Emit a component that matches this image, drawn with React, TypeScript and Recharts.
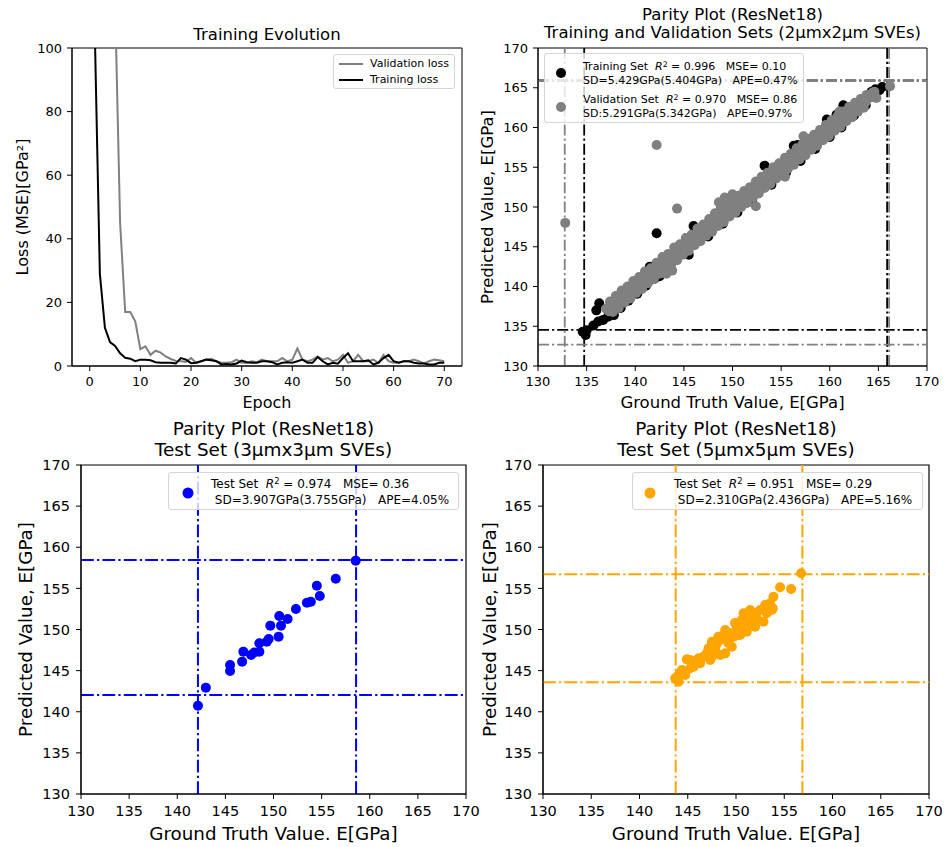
import React from 'react';
import {
  LineChart,
  Line,
  ScatterChart,
  Scatter,
  XAxis,
  YAxis,
  ReferenceLine,
  ReferenceArea,
  Legend,
  Label,
} from 'recharts';

const FONT = '"DejaVu Sans", "Noto Sans", sans-serif';

// ---------- Training evolution (epochs 0..70) ----------
const trainingLoss = [
  500, 105, 29, 12, 7.5, 6.3, 4.0, 2.6, 2.3, 1.5,
  2.0, 2.0, 1.8, 1.2, 1.0, 1.0, 1.0, 0.8, 2.5, 2.0,
  0.9, 1.0, 1.5, 2.0, 1.8, 1.5, 0.5, 0.6, 0.5, 0.8,
  1.7, 1.2, 1.0, 1.0, 1.5, 1.5, 1.2, 0.5, 1.0, 1.2,
  1.0, 1.5, 2.0, 1.0, 1.0, 2.8, 1.5, 0.5, 1.0, 0.7,
  2.5, 4.0, 1.5, 1.5, 1.5, 1.8, 0.5, 1.0, 2.5, 3.5,
  1.5, 1.0, 1.5, 1.5, 1.0, 0.8, 0.8, 0.5, 0.5, 1.0, 1.0,
];
const validationLoss = [
  900, 600, 400, 250, 170, 115, 45, 17, 17, 14,
  5.3, 6.2, 3.5, 4.8, 4.2, 3.0, 2.2, 1.6, 1.5, 1.3,
  2.5, 1.0, 1.5, 2.0, 2.3, 1.5, 1.0, 1.0, 1.2, 2.0,
  1.0, 1.0, 1.5, 1.2, 2.0, 1.5, 1.5, 1.5, 2.5, 1.5,
  2.0, 5.5, 2.0, 1.5, 2.0, 3.0, 2.0, 2.5, 1.5, 2.0,
  3.5, 1.0, 1.5, 3.5, 1.5, 1.5, 2.0, 1.0, 3.5, 1.5,
  1.0, 1.0, 1.5, 1.5, 2.0, 1.5, 0.8, 1.5, 2.0, 1.8, 1.5,
];
const epochTicks = [0, 10, 20, 30, 40, 50, 60, 70];
const lossTicks = [0, 20, 40, 60, 80, 100];

// ---------- Parity plot: training / validation (2um x 2um) ----------
const trainingSet: [number, number][] = [
  [134.6, 134.3], [134.9, 133.9], [135.0, 134.5], [135.7, 135.1], [136.0, 137.0],
  [136.3, 137.9], [136.2, 135.6], [136.7, 135.8], [137.2, 136.2], [137.8, 136.4],
  [138.5, 137.3], [139.3, 138.2], [140.2, 139.1], [141.1, 140.1], [141.5, 142.5],
  [142.0, 141.0], [142.5, 141.3], [142.2, 146.7], [143.5, 142.4], [145.5, 144.0],
  [146.0, 147.6], [147.5, 146.3], [149.0, 147.9], [150.5, 149.3], [152.0, 150.8],
  [153.3, 155.2], [154.0, 152.8], [155.5, 154.3], [156.3, 157.7], [156.7, 157.8],
  [157.0, 155.8], [158.5, 157.3], [159.7, 161.0], [160.0, 158.8], [160.7, 161.6],
  [161.4, 162.8], [161.2, 160.0], [162.5, 161.5], [163.3, 163.6], [163.7, 162.8],
  [164.3, 164.5], [164.7, 164.8], [165.1, 164.7], [165.4, 165.1],
];
const validationSet: [number, number][] = [
  // row A (upper edge)
  [137.4, 138.1], [138.0, 138.8], [138.6, 139.5], [139.2, 140.0], [139.8, 140.7],
  [140.4, 141.2], [141.0, 141.9], [141.6, 142.3], [142.2, 143.0], [142.8, 143.7],
  [143.4, 144.1], [144.0, 144.9], [144.6, 145.3], [145.2, 146.1], [145.8, 146.5],
  [146.4, 147.3], [147.0, 147.8], [147.6, 148.5], [148.2, 149.2], [148.8, 149.9],
  [149.4, 150.5], [150.0, 150.9], [150.6, 151.4], [151.2, 152.0], [151.8, 152.5],
  [152.4, 153.2], [153.0, 153.8], [153.6, 154.3], [154.2, 155.0], [154.8, 155.5],
  [155.4, 156.2], [156.0, 156.7], [156.6, 157.4], [157.2, 157.9], [157.8, 158.6],
  [158.4, 159.1], [159.0, 159.7], [159.6, 160.3], [160.2, 160.9], [160.8, 161.4],
  [161.4, 162.0], [162.0, 162.6], [162.6, 163.1], [163.2, 163.6], [163.8, 164.1],
  [164.4, 164.4],
  // row B
  [137.0, 137.2], [137.6, 137.9], [138.2, 138.4], [138.8, 139.1], [139.4, 139.6],
  [140.0, 140.3], [140.6, 140.8], [141.2, 141.5], [141.8, 142.0], [142.4, 142.7],
  [143.0, 143.2], [143.6, 143.9], [144.2, 144.4], [144.8, 145.1], [145.4, 145.6],
  [146.0, 146.3], [146.6, 146.9], [147.2, 147.5], [147.8, 148.1], [148.4, 148.7],
  [149.0, 149.3], [149.6, 149.9], [150.2, 150.4], [150.8, 151.1], [151.4, 151.6],
  [152.0, 152.3], [152.6, 152.8], [153.2, 153.5], [153.8, 154.0], [154.4, 154.7],
  [155.0, 155.2], [155.6, 155.9], [156.2, 156.4], [156.8, 157.0], [157.4, 157.6],
  [158.0, 158.2], [158.6, 158.8], [159.2, 159.4], [159.8, 159.9], [160.4, 160.6],
  [161.0, 161.1], [161.6, 161.7], [162.2, 162.3], [162.8, 162.8], [163.4, 163.4],
  [164.0, 163.9], [164.6, 164.5],
  // row C
  [137.3, 136.9], [137.9, 137.6], [138.5, 138.1], [139.1, 138.8], [139.7, 139.3],
  [140.3, 140.0], [140.9, 140.5], [141.5, 141.2], [142.1, 141.7], [142.7, 142.4],
  [143.3, 142.9], [143.9, 143.6], [144.5, 144.1], [145.1, 144.8], [145.7, 145.3],
  [146.3, 146.0], [146.9, 146.5], [147.5, 147.2], [148.1, 147.7], [148.7, 148.4],
  [149.3, 148.9], [149.9, 149.6], [150.5, 150.1], [151.1, 150.8], [151.7, 151.3],
  [152.3, 152.0], [152.9, 152.5], [153.5, 153.2], [154.1, 153.7], [154.7, 154.4],
  [155.3, 154.9], [155.9, 155.6], [156.5, 156.1], [157.1, 156.8], [157.7, 157.3],
  [158.3, 158.0], [158.9, 158.5], [159.5, 159.2], [160.1, 159.7], [160.7, 160.4],
  [161.3, 160.9], [161.9, 161.6], [162.5, 162.1], [163.1, 162.8], [163.7, 163.2],
  [164.3, 163.8],
  // row D (lower edge)
  [137.7, 136.8], [138.3, 137.3], [138.9, 138.0], [139.5, 138.5], [140.1, 139.2],
  [140.7, 139.7], [141.3, 140.4], [141.9, 140.9], [142.5, 141.6], [143.1, 142.1],
  [143.7, 142.8], [144.3, 143.3], [144.9, 144.0], [145.5, 144.5], [146.1, 145.2],
  [146.7, 145.7], [147.3, 146.4], [147.9, 146.9], [148.5, 147.6], [149.1, 148.1],
  [149.7, 148.8], [150.3, 149.3], [150.9, 150.0], [151.5, 150.5], [152.1, 151.2],
  [152.7, 151.7], [153.3, 152.4], [153.9, 152.9], [154.5, 153.6], [155.1, 154.1],
  [155.7, 154.8], [156.3, 155.3], [156.9, 156.0], [157.5, 156.5], [158.1, 157.2],
  [158.7, 157.7], [159.3, 158.4], [159.9, 158.9], [160.5, 159.6], [161.1, 160.1],
  [161.7, 160.8], [162.3, 161.3], [162.9, 162.0], [163.5, 162.5],
  // bumps, extremes and outliers
  [148.6, 150.6], [149.2, 151.2], [150.0, 151.6], [152.4, 150.1], [157.3, 158.9],
  [143.2, 141.6], [143.8, 142.0], [155.4, 153.8], [161.0, 162.0], [164.8, 163.7],
  [166.2, 165.2], [132.8, 148.0], [142.2, 157.8], [144.3, 149.8],
];
const trainLinesX = [134.75, 165.9];
const trainLinesY = [134.55, 165.92];
const valLinesX = [132.75, 166.1];
const valLinesY = [132.7, 165.85];

// ---------- Test set 3um x 3um ----------
const testSet3: [number, number][] = [
  [158.54, 158.37], [156.47, 156.18], [154.5, 155.33], [154.81, 154.07], [153.88, 153.38],
  [153.47, 153.26], [152.33, 152.49], [151.47, 151.28], [150.6, 151.64], [150.78, 150.47],
  [149.67, 150.47], [150.53, 149.13], [149.5, 148.85], [148.53, 148.32], [148.53, 147.31],
  [147.67, 146.9], [146.87, 147.31], [146.74, 146.09], [145.49, 145.68], [145.49, 144.95],
  [142.97, 142.93], [142.15, 140.74], [148.0, 147.2], [149.3, 148.5],
];
const test3LinesX = [142.15, 158.58];
const test3LinesY = [142.04, 158.45];

// ---------- Test set 5um x 5um ----------
const testSet5: [number, number][] = [
  [156.75, 156.83], [154.57, 155.13], [155.71, 154.92], [153.88, 153.99], [153.54, 153.18],
  [153.81, 152.57], [153.02, 152.98], [152.5, 152.37], [151.98, 151.97], [151.47, 152.37],
  [151.12, 151.56], [151.47, 150.95], [150.6, 151.16], [150.43, 150.55], [150.78, 149.94],
  [150.09, 150.34], [149.91, 149.74], [149.4, 149.53], [149.05, 148.93], [148.7, 149.33],
  [148.36, 148.72], [148.01, 148.32], [147.84, 147.51], [147.5, 148.52], [147.15, 147.71],
  [146.98, 147.1], [146.63, 146.7], [146.12, 146.5], [145.77, 146.09], [145.25, 146.29],
  [144.91, 146.37], [145.25, 145.28], [144.39, 145.08], [144.04, 144.47], [143.7, 144.06],
  [144.04, 143.66], [144.73, 144.47], [145.6, 145.48], [146.29, 145.89], [147.32, 146.29],
  [148.36, 146.9], [148.88, 147.1], [149.57, 147.91], [150.43, 149.33], [151.12, 149.73],
  [151.98, 150.34], [152.85, 150.95], [153.71, 152.37], [148.01, 147.1], [149.22, 148.32],
  [150.26, 149.33], [151.64, 150.55], [152.16, 151.36], [153.19, 151.97], [147.5, 146.7],
  [149.74, 149.13], [150.78, 151.97], [148.88, 149.94], [148.18, 149.13], [147.9, 148.0],
  [149.9, 150.8], [151.0, 151.0],
];
const test5LinesX = [143.75, 156.88];
const test5LinesY = [143.58, 156.71];

const parityTicks = [130, 135, 140, 145, 150, 155, 160, 165, 170];

const toXY = (pairs: [number, number][]) => pairs.map(([x, y]) => ({ x, y }));
const lossRows = trainingLoss.map((t, i) => ({ epoch: i, train: t, val: validationLoss[i] }));

// ---------- helpers ----------
const dot = (color: string, r = 5) => (props: any) =>
  <circle cx={props.cx} cy={props.cy} r={r} fill={color} />;

function xLabel(dist: number, size: number, text: string) {
  return (props: any) => {
    const vb = props.viewBox || { x: 0, y: 0, width: 0 };
    const cx = vb.x + vb.width / 2;
    const cy = vb.y + dist;
    return (
      <text x={cx} y={cy} textAnchor="middle" dominantBaseline="central" fontSize={size} fontFamily={FONT} fill="#000">
        {text}
      </text>
    );
  };
}
function yLabel(dist: number, size: number, text: string) {
  return (props: any) => {
    const vb = props.viewBox || { x: 0, y: 0, width: 0, height: 0 };
    const cx = vb.x + vb.width - dist;
    const cy = vb.y + vb.height / 2;
    return (
      <text x={cx} y={cy} transform={`rotate(-90 ${cx} ${cy})`} textAnchor="middle" dominantBaseline="central" fontSize={size} fontFamily={FONT} fill="#000">
        {text}
      </text>
    );
  };
}

const R2 = () => (
  <>
    <i style={{ fontFamily: FONT }}>R</i>
    <span style={{ fontSize: '0.7em', position: 'relative', top: '-0.45em' }}>2</span>
  </>
);

const boxStyle: React.CSSProperties = {
  position: 'relative',
  width: '100%',
  height: '100%',
  boxSizing: 'border-box',
  border: '1px solid #d5d5d5',
  borderRadius: 3,
  background: 'rgba(255,255,255,0.8)',
  fontFamily: FONT,
  color: '#000',
};
const lineText = (top: number, left: number, size: number): React.CSSProperties => ({
  position: 'absolute',
  left,
  top,
  fontSize: size,
  lineHeight: '14px',
  whiteSpace: 'pre',
});

const Title = ({ left, width, top, size, lh, lines }: any) => (
  <div
    style={{
      position: 'absolute',
      left,
      width,
      top,
      textAlign: 'center',
      fontSize: size,
      lineHeight: lh + 'px',
      fontFamily: FONT,
      color: '#000',
      whiteSpace: 'pre',
    }}
  >
    {lines.map((l: string, i: number) => (
      <div key={i}>{l}</div>
    ))}
  </div>
);

const dashTop = '11 3 2.2 3';
const dashBottom = '12.8 3.2 2.2 3.2';

const tickTop = { fontSize: 13, fill: '#000', fontFamily: FONT };
const tickBottom = { fontSize: 14.5, fill: '#000', fontFamily: FONT };

export default function App() {
  return (
    <div
      style={{
        position: 'absolute',
        left: 0,
        top: 0,
        width: 945,
        height: 847,
        overflow: 'hidden',
        background: '#fff',
        fontFamily: FONT,
      }}
    >
      {/* Titles */}
      <Title left={72} width={390} top={24.5} size={16.5} lh={20} lines={['Training Evolution']} />
      <Title
        left={538}
        width={389}
        top={5.75}
        size={16.5}
        lh={18.5}
        lines={['Parity Plot (ResNet18)', 'Training and Validation Sets (2µmx2µm SVEs)']}
      />
      <Title left={81} width={385} top={417.5} size={18.4} lh={21.7} lines={['Parity Plot (ResNet18)', 'Test Set (3µmx3µm SVEs)']} />
      <Title left={543} width={386} top={417.5} size={18.4} lh={21.7} lines={['Parity Plot (ResNet18)', 'Test Set (5µmx5µm SVEs)']} />

      {/* Top-left: training evolution */}
      <div style={{ position: 'absolute', left: 2, top: 38 }}>
        <LineChart width={478} height={388} data={lossRows} margin={{ top: 10, right: 18, left: 0, bottom: 0 }}>
          <XAxis
            type="number"
            dataKey="epoch"
            domain={[-3.5, 73.5]}
            ticks={epochTicks}
            interval={0}
            allowDataOverflow
            height={60}
            tickSize={5}
            tickMargin={6}
            tick={tickTop}
            stroke="#000"
            label={<Label content={xLabel(36, 16, 'Epoch')} />}
          />
          <YAxis
            type="number"
            domain={[0, 100]}
            ticks={lossTicks}
            interval={0}
            allowDataOverflow
            width={70}
            tickSize={5}
            tickMargin={5}
            tick={tickTop}
            stroke="#000"
            label={<Label content={yLabel(50, 16, 'Loss (MSE)[GPa²]')} />}
          />
          <ReferenceArea x1={-3.5} x2={73.5} y1={0} y2={100} fill="none" stroke="#000" strokeWidth={1} />
          <Line dataKey="val" stroke="#808080" strokeWidth={2} dot={false} isAnimationActive={false} />
          <Line dataKey="train" stroke="#000" strokeWidth={2} dot={false} isAnimationActive={false} />
          <Legend
            layout="horizontal"
            verticalAlign="middle"
            align="center"
            wrapperStyle={{ left: 331, top: 16, width: 122, height: 35 }}
            content={() => (
              <div style={boxStyle}>
                <svg width={122} height={35} style={{ position: 'absolute', left: 0, top: 0 }}>
                  <line x1={5} x2={29} y1={9} y2={9} stroke="#808080" strokeWidth={2} />
                  <line x1={5} x2={29} y1={25} y2={25} stroke="#000" strokeWidth={2} />
                </svg>
                <div style={lineText(2, 36, 11)}>Validation loss</div>
                <div style={lineText(18, 36, 11)}>Training loss</div>
              </div>
            )}
          />
        </LineChart>
      </div>

      {/* Top-right: training / validation parity */}
      <div style={{ position: 'absolute', left: 468, top: 38 }}>
        <ScatterChart width={477} height={388} margin={{ top: 10, right: 18, left: 0, bottom: 0 }}>
          <XAxis
            type="number"
            dataKey="x"
            domain={[130, 170]}
            ticks={parityTicks}
            interval={0}
            allowDataOverflow
            height={60}
            tickSize={5}
            tickMargin={6}
            tick={tickTop}
            stroke="#000"
            label={<Label content={xLabel(36, 16.5, 'Ground Truth Value, E[GPa]')} />}
          />
          <YAxis
            type="number"
            dataKey="y"
            domain={[130, 170]}
            ticks={parityTicks}
            interval={0}
            allowDataOverflow
            width={70}
            tickSize={5}
            tickMargin={5}
            tick={tickTop}
            stroke="#000"
            label={<Label content={yLabel(51, 16.5, 'Predicted Value, E[GPa]')} />}
          />
          <ReferenceArea x1={130} x2={170} y1={130} y2={170} fill="none" stroke="#000" strokeWidth={1} />
          <Scatter data={toXY(trainingSet)} fill="#000" shape={dot('#000')} isAnimationActive={false} />
          <Scatter data={toXY(validationSet)} fill="#808080" shape={dot('#808080')} isAnimationActive={false} />
          {trainLinesX.map((v) => (
            <ReferenceLine key={'tx' + v} x={v} stroke="#000" strokeWidth={1.8} strokeDasharray={dashTop} />
          ))}
          {trainLinesY.map((v) => (
            <ReferenceLine key={'ty' + v} y={v} stroke="#000" strokeWidth={1.8} strokeDasharray={dashTop} />
          ))}
          {valLinesX.map((v) => (
            <ReferenceLine key={'vx' + v} x={v} stroke="#808080" strokeWidth={1.8} strokeDasharray={dashTop} />
          ))}
          {valLinesY.map((v) => (
            <ReferenceLine key={'vy' + v} y={v} stroke="#808080" strokeWidth={1.8} strokeDasharray={dashTop} />
          ))}
          <Legend
            layout="horizontal"
            verticalAlign="middle"
            align="center"
            wrapperStyle={{ left: 76, top: 15, width: 260, height: 70 }}
            content={() => (
              <div style={boxStyle}>
                <svg width={260} height={70} style={{ position: 'absolute', left: 0, top: 0 }}>
                  <circle cx={16} cy={19} r={5} fill="#000" />
                  <circle cx={16} cy={53} r={5} fill="#808080" />
                </svg>
                <div style={lineText(6, 38, 11)}>
                  {'Training Set  '}
                  <R2 />
                  {' = 0.996   MSE= 0.10'}
                </div>
                <div style={lineText(20, 38, 11)}>{'SD=5.429GPa(5.404GPa)   APE=0.47%'}</div>
                <div style={lineText(39, 38, 11)}>
                  {'Validation Set  '}
                  <R2 />
                  {' = 0.970   MSE= 0.86'}
                </div>
                <div style={lineText(53, 38, 11)}>{'SD:5.291GPa(5.342GPa)   APE=0.97%'}</div>
              </div>
            )}
          />
        </ScatterChart>
      </div>

      {/* Bottom-left: test set 3um */}
      <div style={{ position: 'absolute', left: 11, top: 455 }}>
        <ScatterChart width={475} height={389} margin={{ top: 10, right: 20, left: 0, bottom: 0 }}>
          <XAxis
            type="number"
            dataKey="x"
            domain={[130, 170]}
            ticks={parityTicks}
            interval={0}
            allowDataOverflow
            height={50}
            tickSize={5}
            tickMargin={7}
            tick={tickBottom}
            stroke="#000"
            label={<Label content={xLabel(39, 18.3, 'Ground Truth Value. E[GPa]')} />}
          />
          <YAxis
            type="number"
            dataKey="y"
            domain={[130, 170]}
            ticks={parityTicks}
            interval={0}
            allowDataOverflow
            width={70}
            tickSize={5}
            tickMargin={6}
            tick={tickBottom}
            stroke="#000"
            label={<Label content={yLabel(56, 18.3, 'Predicted Value, E[GPa]')} />}
          />
          <ReferenceArea x1={130} x2={170} y1={130} y2={170} fill="none" stroke="#000" strokeWidth={1.2} />
          <Scatter data={toXY(testSet3)} fill="#0000ff" shape={dot('#0000ff')} isAnimationActive={false} />
          {test3LinesX.map((v) => (
            <ReferenceLine key={'bx' + v} x={v} stroke="#0000ff" strokeWidth={2} strokeDasharray={dashBottom} />
          ))}
          {test3LinesY.map((v) => (
            <ReferenceLine key={'by' + v} y={v} stroke="#0000ff" strokeWidth={2} strokeDasharray={dashBottom} />
          ))}
          <Legend
            layout="horizontal"
            verticalAlign="middle"
            align="center"
            wrapperStyle={{ left: 157, top: 17, width: 291, height: 38 }}
            content={() => (
              <div style={boxStyle}>
                <svg width={291} height={38} style={{ position: 'absolute', left: 0, top: 0 }}>
                  <circle cx={19} cy={20} r={5.5} fill="#0000ff" />
                </svg>
                <div style={lineText(4, 42, 12)}>
                  {'Test Set  '}
                  <R2 />
                  {' = 0.974   MSE= 0.36'}
                </div>
                <div style={lineText(20, 42, 12)}>{' SD=3.907GPa(3.755GPa)   APE=4.05%'}</div>
              </div>
            )}
          />
        </ScatterChart>
      </div>

      {/* Bottom-right: test set 5um */}
      <div style={{ position: 'absolute', left: 473, top: 455 }}>
        <ScatterChart width={472} height={389} margin={{ top: 10, right: 16, left: 0, bottom: 0 }}>
          <XAxis
            type="number"
            dataKey="x"
            domain={[130, 170]}
            ticks={parityTicks}
            interval={0}
            allowDataOverflow
            height={50}
            tickSize={5}
            tickMargin={7}
            tick={tickBottom}
            stroke="#000"
            label={<Label content={xLabel(39, 18.3, 'Ground Truth Value. E[GPa]')} />}
          />
          <YAxis
            type="number"
            dataKey="y"
            domain={[130, 170]}
            ticks={parityTicks}
            interval={0}
            allowDataOverflow
            width={70}
            tickSize={5}
            tickMargin={6}
            tick={tickBottom}
            stroke="#000"
            label={<Label content={yLabel(54, 18.3, 'Predicted Value, E[GPa]')} />}
          />
          <ReferenceArea x1={130} x2={170} y1={130} y2={170} fill="none" stroke="#000" strokeWidth={1.2} />
          <Scatter data={toXY(testSet5)} fill="#ffa500" shape={dot('#ffa500')} isAnimationActive={false} />
          {test5LinesX.map((v) => (
            <ReferenceLine key={'ox' + v} x={v} stroke="#ffa500" strokeWidth={2} strokeDasharray={dashBottom} />
          ))}
          {test5LinesY.map((v) => (
            <ReferenceLine key={'oy' + v} y={v} stroke="#ffa500" strokeWidth={2} strokeDasharray={dashBottom} />
          ))}
          <Legend
            layout="horizontal"
            verticalAlign="middle"
            align="center"
            wrapperStyle={{ left: 159, top: 17, width: 291, height: 38 }}
            content={() => (
              <div style={boxStyle}>
                <svg width={291} height={38} style={{ position: 'absolute', left: 0, top: 0 }}>
                  <circle cx={17} cy={20} r={5.5} fill="#ffa500" />
                </svg>
                <div style={lineText(4, 41, 12)}>
                  {'Test Set  '}
                  <R2 />
                  {' = 0.951   MSE= 0.29'}
                </div>
                <div style={lineText(20, 41, 12)}>{' SD=2.310GPa(2.436GPa)   APE=5.16%'}</div>
              </div>
            )}
          />
        </ScatterChart>
      </div>
    </div>
  );
}
